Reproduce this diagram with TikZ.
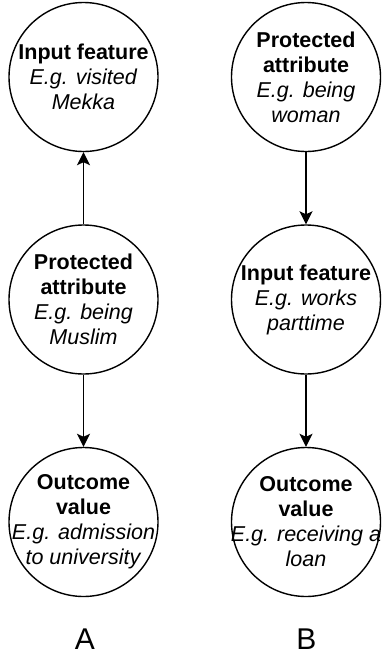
\documentclass[tikz,border=0pt]{standalone}
\usepackage{fontspec}
\setmainfont{Liberation Sans}
\usetikzlibrary{arrows.meta}
\tikzset{
  circ/.style={circle, draw=black, line width=1.4pt, minimum size=149pt, inner sep=0pt},
  txt/.style={align=center, inner sep=0pt, font=\fontsize{21.5}{25}\selectfont},
  arr/.style={draw=black, line width=1.4pt, -{Stealth[length=13pt, width=13pt, inset=3pt]}},
  lab/.style={anchor=base, inner sep=0pt, font=\fontsize{30}{34}\selectfont},
}
\begin{document}
\begin{tikzpicture}[x=1pt, y=1pt]
\useasboundingbox (0,0) rectangle (382,-656);
\fill[white] (0,0) rectangle (382,-656);
% column A
\node[circ] (a1) at (83.5,-77) {};
\node[circ] (a2) at (83.5,-299.5) {};
\node[circ] (a3) at (83.5,-522) {};
\node[txt] (ta1) at (a1.center) {\textbf{Input feature}\\\textit{E.g. visited}\\\textit{Mekka}};
\node[txt] (ta2) at (a2.center) {\textbf{Protected}\\\textbf{attribute}\\\textit{E.g. being}\\\textit{Muslim}};
\node[txt] (ta3) at (a3.center) {\textbf{Outcome}\\\textbf{value}\\\textit{E.g. admission}\\\textit{to university}};
% column B
\node[circ] (b1) at (306,-77) {};
\node[circ] (b2) at (306,-299.5) {};
\node[circ] (b3) at (306,-522) {};
\node[txt] (tb1) at (b1.center) {\textbf{Protected}\\\textbf{attribute}\\\textit{E.g. being}\\\textit{woman}};
\node[txt] (tb2) at (b2.center) {\textbf{Input feature}\\\textit{E.g. works}\\\textit{parttime}};
\node[txt] (tb3) at (b3.center) {\textbf{Outcome}\\\textbf{value}\\\textit{E.g. receiving a}\\\textit{loan}};
% arrows
\draw[arr] (a2) -- (a1);
\draw[arr] (a2) -- (a3);
\draw[arr] (b1) -- (b2);
\draw[arr] (b2) -- (b3);
% labels
\node[lab] (la) at (85,-649) {A};
\node[lab] (lb) at (306.5,-649) {B};
\end{tikzpicture}
\end{document}
